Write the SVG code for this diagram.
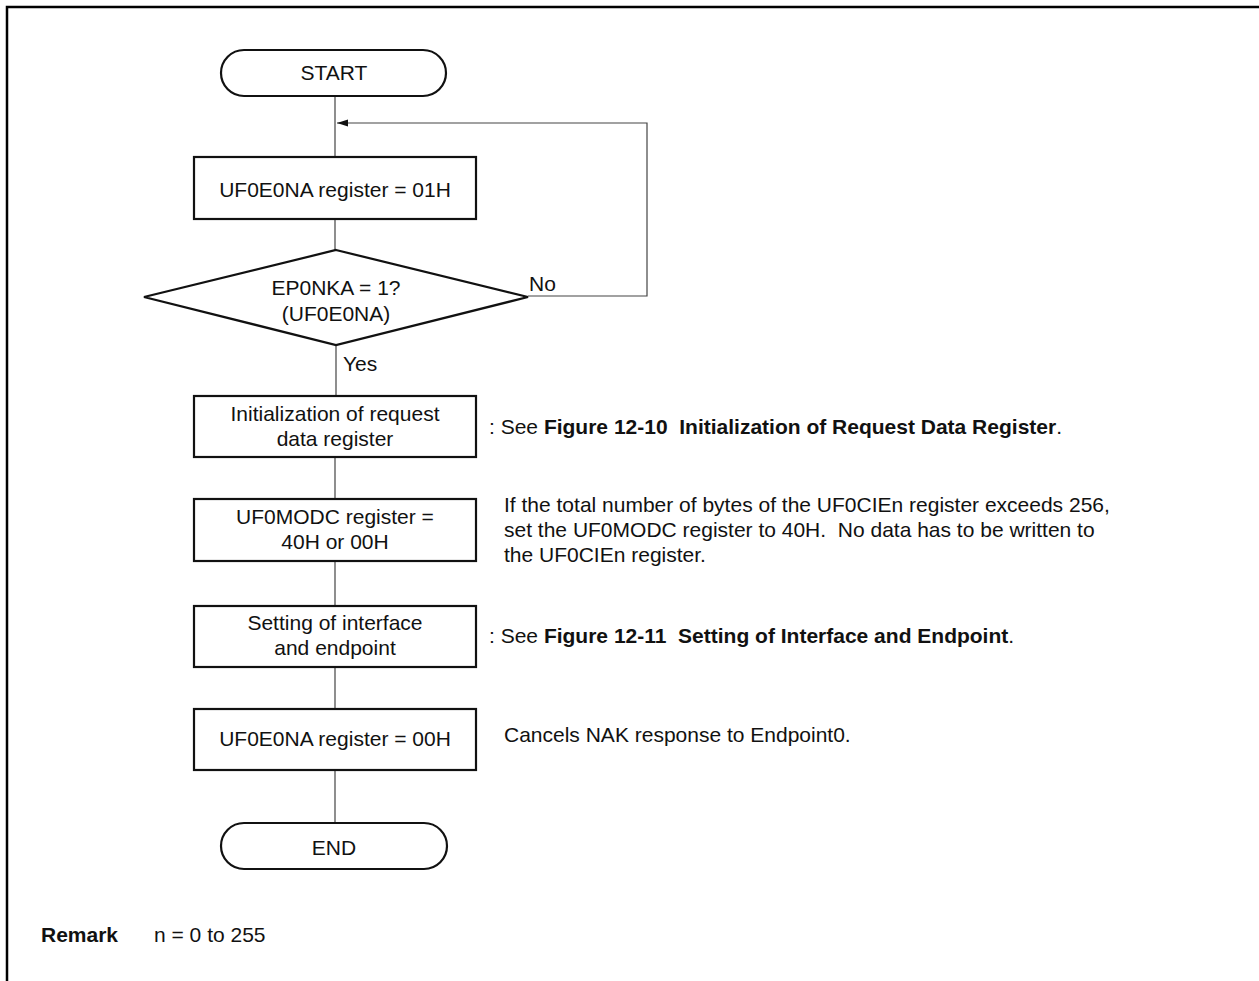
<svg xmlns="http://www.w3.org/2000/svg" width="1259" height="981" viewBox="0 0 1259 981">
<style>
text{font-family:"Liberation Sans",Arial,sans-serif;font-size:21px;fill:#111;white-space:pre}
.c{text-anchor:middle}
.b{font-weight:bold}
.node{fill:#fff;stroke:#111;stroke-width:2.2}
.conn{fill:none;stroke:#444;stroke-width:1.2}
.frame{fill:none;stroke:#000;stroke-width:2.5}
</style>
<defs>
<marker id="ah" markerWidth="11" markerHeight="8" refX="11" refY="4" orient="auto" markerUnits="userSpaceOnUse">
<path d="M0,0.5 L11,4 L0,7.5 z" fill="#111"/>
</marker>
</defs>
<path class="frame" d="M7,981 V7 H1259"/>
<g id="connectors">
<line class="conn" x1="335" y1="96" x2="335" y2="157"/>
<polyline class="conn" points="528,296 647,296 647,123 337,123" marker-end="url(#ah)"/>
<line class="conn" x1="335" y1="219" x2="335" y2="250"/>
<line class="conn" x1="336" y1="345" x2="336" y2="396"/>
<line class="conn" x1="335" y1="457" x2="335" y2="499"/>
<line class="conn" x1="335" y1="561" x2="335" y2="606"/>
<line class="conn" x1="335" y1="667" x2="335" y2="709"/>
<line class="conn" x1="335" y1="770" x2="335" y2="823"/>
</g>
<g id="start">
<rect class="node" x="221" y="50" width="225" height="46" rx="23" ry="23"/>
<text class="c" x="334" y="80">START</text>
</g>
<g id="set01">
<rect class="node" x="194" y="157" width="282" height="62"/>
<text class="c" x="335" y="197">UF0E0NA register = 01H</text>
</g>
<g id="decision">
<polygon class="node" points="336,250 528,297 336,345 144,297"/>
<text class="c" x="336" y="295">EP0NKA = 1?</text>
<text class="c" x="336" y="321">(UF0E0NA)</text>
<text x="529" y="291">No</text>
<text x="343" y="371">Yes</text>
</g>
<g id="init">
<rect class="node" x="194" y="396" width="282" height="61"/>
<text class="c" x="335" y="421">Initialization of request</text>
<text class="c" x="335" y="446">data register</text>
<text x="489" y="434" xml:space="preserve">: See <tspan class="b">Figure 12-10  Initialization of Request Data Register</tspan>.</text>
</g>
<g id="modc">
<rect class="node" x="194" y="499" width="282" height="62"/>
<text class="c" x="335" y="524">UF0MODC register =</text>
<text class="c" x="335" y="549">40H or 00H</text>
<text x="504" y="512">If the total number of bytes of the UF0CIEn register exceeds 256,</text>
<text x="504" y="537" xml:space="preserve">set the UF0MODC register to 40H.  No data has to be written to</text>
<text x="504" y="562">the UF0CIEn register.</text>
</g>
<g id="setif">
<rect class="node" x="194" y="606" width="282" height="61"/>
<text class="c" x="335" y="630">Setting of interface</text>
<text class="c" x="335" y="655">and endpoint</text>
<text x="489" y="643" xml:space="preserve">: See <tspan class="b">Figure 12-11  Setting of Interface and Endpoint</tspan>.</text>
</g>
<g id="set00">
<rect class="node" x="194" y="709" width="282" height="61"/>
<text class="c" x="335" y="746">UF0E0NA register = 00H</text>
<text x="504" y="742">Cancels NAK response to Endpoint0.</text>
</g>
<g id="end">
<rect class="node" x="221" y="823" width="226" height="46" rx="23" ry="23"/>
<text class="c" x="334" y="855">END</text>
</g>
<g id="remark">
<text x="41" y="942" class="b">Remark</text>
<text x="154" y="942">n = 0 to 255</text>
</g>
</svg>
